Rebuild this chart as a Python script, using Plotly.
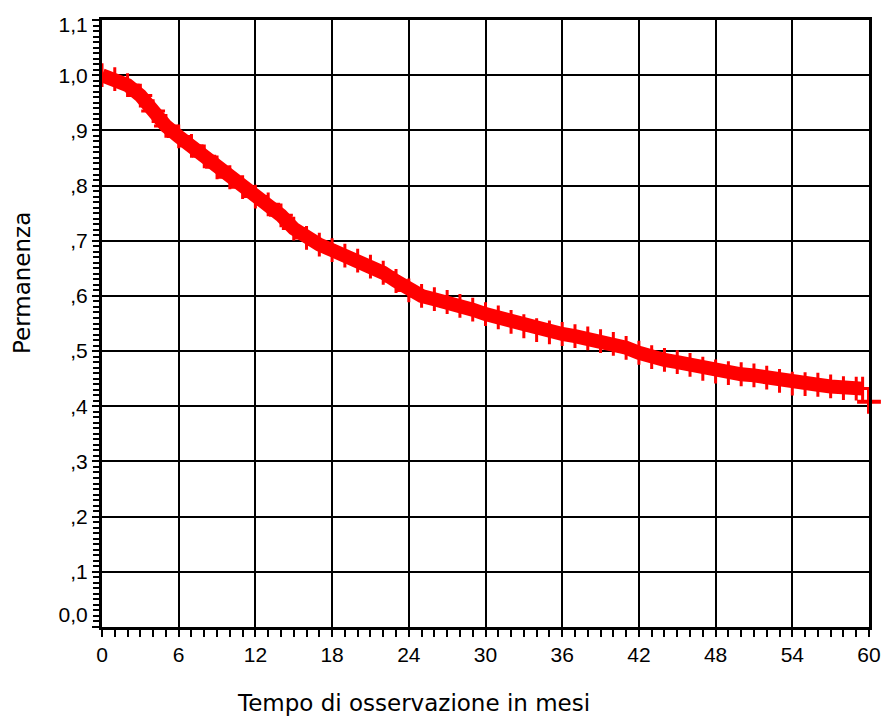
import plotly.graph_objects as go

# Kaplan-Meier style survival curve (months, proportion remaining)
months = list(range(0, 60))
permanenza = [1.000, 0.993, 0.982, 0.963, 0.935, 0.908, 0.889, 0.872, 0.853, 0.833,
              0.815, 0.797, 0.780, 0.766, 0.746, 0.722, 0.705, 0.693, 0.683, 0.673,
              0.664, 0.653, 0.642, 0.627, 0.610, 0.600, 0.594, 0.589, 0.582, 0.575,
              0.567, 0.561, 0.553, 0.545, 0.538, 0.534, 0.531, 0.527, 0.523, 0.518,
              0.513, 0.506, 0.497, 0.489, 0.484, 0.480, 0.475, 0.468, 0.463, 0.460,
              0.458, 0.456, 0.452, 0.446, 0.441, 0.440, 0.439, 0.436, 0.433, 0.432]
last_month = [59.5]
last_value = [0.432]
end_month = [60]
end_value = [0.408]

x_ticks = list(range(0, 61, 6))
y_ticks = [round(i * 0.1, 1) for i in range(12)]
y_label_pos = [0.022, 0.1, 0.2, 0.3, 0.4, 0.5, 0.6, 0.7, 0.8, 0.9, 1.0, 1.091]
y_label_text = ["0,0", ",1", ",2", ",3", ",4", ",5", ",6", ",7", ",8", ",9", "1,0", "1,1"]

RED = "#ff0000"
fig = go.Figure()
fig.add_trace(go.Scatter(
    x=months + last_month, y=permanenza + last_value, mode="lines+markers",
    line=dict(color=RED, width=14),
    marker=dict(symbol="cross-thin", size=17, line=dict(color=RED, width=3)),
    showlegend=False, hoverinfo="x+y"))
fig.add_trace(go.Scatter(
    x=end_month, y=end_value, mode="markers",
    marker=dict(symbol="cross-thin", size=17, line=dict(color=RED, width=4)),
    showlegend=False, cliponaxis=False))
fig.add_trace(go.Scatter(x=[None], y=[None], yaxis="y2", showlegend=False, hoverinfo="skip"))

tick_font = dict(family="Liberation Sans", size=21, color="black")

fig.update_layout(
    width=882, height=718,
    margin=dict(l=102, r=13, t=20, b=91, autoexpand=False),
    paper_bgcolor="white", plot_bgcolor="white",
    xaxis=dict(
        range=[0, 60], tickvals=x_ticks, ticktext=[str(v) for v in x_ticks],
        automargin=False,
        showgrid=True, gridcolor="black", gridwidth=2, zeroline=False,
        showline=True, linecolor="black", linewidth=3, mirror=True,
        ticks="outside", ticklen=7, tickwidth=2, tickcolor="black",
        minor=dict(ticks="outside", dtick=1, ticklen=7, tickwidth=2, tickcolor="black", showgrid=False),
        tickfont=tick_font,
    ),
    yaxis=dict(
        range=[0, 1.1], tickvals=y_ticks, showticklabels=False, automargin=False,
        showgrid=True, gridcolor="black", gridwidth=2, zeroline=False,
        showline=True, linecolor="black", linewidth=3, mirror=True,
        ticks="outside", ticklen=7, tickwidth=2, tickcolor="black",
        minor=dict(ticks="outside", dtick=0.01, ticklen=6, tickwidth=2, tickcolor="black", showgrid=False),
    ),
    yaxis2=dict(
        range=[0, 1.1], overlaying="y", side="left", automargin=False,
        tickvals=y_label_pos, ticktext=y_label_text,
        showgrid=False, zeroline=False, showline=False,
        ticks="outside", ticklen=9, tickcolor="rgba(0,0,0,0)",
        tickfont=tick_font,
    ),
    annotations=[
        dict(text="Tempo di osservazione in mesi", xref="paper", yref="paper",
             x=(413 - 102) / 767, y=-(703 - 627) / 607, xanchor="center", yanchor="middle",
             showarrow=False, font=dict(family="DejaVu Sans", size=23, color="black")),
        dict(text="Permanenza", xref="paper", yref="paper",
             x=-(102 - 22) / 767, y=(627 - 283) / 607, xanchor="center", yanchor="middle",
             textangle=-90, showarrow=False,
             font=dict(family="DejaVu Sans", size=23, color="black")),
    ],
)

fig.write_html("out.html")
